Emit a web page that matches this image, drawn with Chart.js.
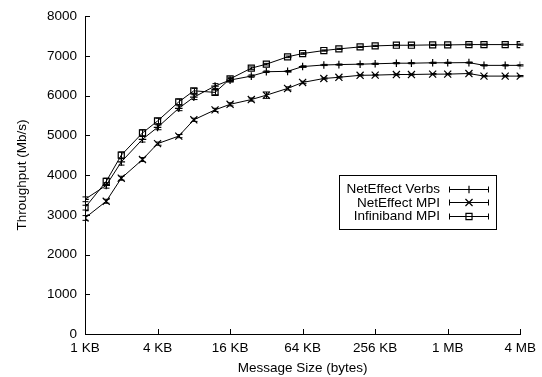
<!DOCTYPE html>
<html>
<head>
<meta charset="utf-8">
<script src="https://cdn.jsdelivr.net/npm/chart.js@4/dist/chart.umd.min.js"></script>
<style>
html,body{margin:0;padding:0;background:#fff;}
#wrap{width:542px;height:377px;position:relative;}
</style>
</head>
<body>
<div id="wrap"><canvas id="c" width="542" height="377"></canvas></div>
<script>
// Message sizes in KB
const sizesKB = [1,1.5,2,3,4,6,8,12,16,24,32,48,64,96,128,192,256,384,512,768,1024,1536,2048,3072,4096];
const tickValuesKB = [1,4,16,64,256,1024,4096];
const tickLabels = ["1 KB","4 KB","16 KB","64 KB","256 KB","1 MB","4 MB"];
const yTicks = [0,1000,2000,3000,4000,5000,6000,7000,8000];

const seriesNames = ["NetEffect Verbs","NetEffect MPI","Infiniband MPI"];
const verbs = [3390,3740,4330,4900,5200,5680,5960,6240,6390,6490,6600,6610,6730,6770,6780,6790,6800,6815,6815,6825,6825,6830,6760,6760,6760];
const neMpi = [2920,3340,3920,4390,4790,4980,5390,5640,5780,5900,6010,6180,6330,6430,6460,6510,6515,6530,6530,6540,6540,6555,6490,6490,6490];
const ibMpi = [3180,3840,4500,5060,5360,5840,6120,6080,6420,6690,6790,6975,7058,7133,7175,7225,7250,7267,7267,7275,7275,7283,7283,7283,7283];
const verbsErr = [60,70,80,70,60,60,60,60,40,30,20,20,20,15,15,15,15,15,15,15,15,15,15,15,15];
const neMpiErr = [60,50,50,50,40,40,40,40,40,40,80,40,30,15,15,15,15,15,15,15,15,15,15,15,15];
const ibMpiErr = [60,80,80,80,70,70,60,60,40,30,20,20,20,15,15,15,15,15,15,15,15,15,15,15,15];

const FONT = "'Liberation Sans', Arial, Helvetica, sans-serif";
const FSIZE = 13.5;
const styles = [
  {pointStyle:'cross', radius:3.8},
  {pointStyle:'crossRot', radius:5},
  {pointStyle:'rect', radius:4.3}
];
const values = [verbs, neMpi, ibMpi];
const errs = [verbsErr, neMpiErr, ibMpiErr];

const datasets = values.map((vals, i) => ({
  label: seriesNames[i],
  data: sizesKB.map((s, j) => ({x: s, y: vals[j]})),
  errors: errs[i],
  borderColor: '#000',
  backgroundColor: 'rgba(255,255,255,0)',
  borderWidth: 1,
  pointStyle: styles[i].pointStyle,
  pointRadius: styles[i].radius,
  pointBorderColor: '#000',
  pointBackgroundColor: 'rgba(255,255,255,0)',
  pointBorderWidth: 1.2,
  tension: 0,
  fill: false
}));

const errorBarPlugin = {
  id: 'errorBars',
  afterDatasetsDraw(chart) {
    const ctx = chart.ctx;
    const xs = chart.scales.x, ys = chart.scales.y;
    ctx.save();
    ctx.strokeStyle = '#000';
    ctx.lineWidth = 1;
    chart.data.datasets.forEach(ds => {
      ds.data.forEach((p, j) => {
        const e = ds.errors[j];
        const px = Math.round(xs.getPixelForValue(p.x)) + 0.5;
        const y1 = ys.getPixelForValue(p.y - e);
        const y2 = ys.getPixelForValue(p.y + e);
        ctx.beginPath();
        ctx.moveTo(px, y1); ctx.lineTo(px, y2);
        ctx.moveTo(px - 3, y1); ctx.lineTo(px + 3, y1);
        ctx.moveTo(px - 3, y2); ctx.lineTo(px + 3, y2);
        ctx.stroke();
      });
    });
    ctx.restore();
  }
};

const tickPlugin = {
  id: 'inwardTicks',
  afterDraw(chart) {
    const ctx = chart.ctx;
    const xs = chart.scales.x, ys = chart.scales.y;
    const a = chart.chartArea;
    ctx.save();
    ctx.strokeStyle = '#000';
    ctx.lineWidth = 1;
    ctx.beginPath();
    yTicks.forEach(v => {
      const y = Math.round(ys.getPixelForValue(v)) + 0.5;
      ctx.moveTo(a.left, y); ctx.lineTo(a.left + 5, y);
    });
    tickValuesKB.forEach(v => {
      const x = Math.round(xs.getPixelForValue(v)) + 0.5;
      ctx.moveTo(x, a.bottom); ctx.lineTo(x, a.bottom - 5);
    });
    ctx.stroke();

    // legend
    const bx = 339.5, by = 175.5, bw = 157, bh = 54;
    ctx.strokeRect(bx, by, bw, bh);
    ctx.font = FSIZE + 'px ' + FONT;
    ctx.fillStyle = '#000';
    ctx.textAlign = 'right';
    ctx.textBaseline = 'middle';
    const rows = [189, 202.3, 215.6];
    chart.data.datasets.forEach((ds, i) => {
      const y = rows[i];
      ctx.fillStyle = '#000';
      ctx.fillText(ds.label, 440, y + 0.5);
      const ly = Math.round(y) + 0.5;
      ctx.beginPath();
      ctx.moveTo(449, ly); ctx.lineTo(489, ly);
      ctx.moveTo(449.5, ly - 3); ctx.lineTo(449.5, ly + 3);
      ctx.moveTo(488.5, ly - 3); ctx.lineTo(488.5, ly + 3);
      ctx.stroke();
      ctx.fillStyle = 'rgba(255,255,255,0)';
      ctx.strokeStyle = '#000';
      ctx.lineWidth = 1.2;
      Chart.helpers.drawPoint(ctx, {
        pointStyle: ds.pointStyle, radius: ds.pointRadius, borderWidth: 1.2, rotation: 0
      }, 469, ly);
      ctx.lineWidth = 1;
    });
    ctx.restore();
  }
};

new Chart(document.getElementById('c'), {
  type: 'line',
  data: { datasets },
  options: {
    responsive: false,
    animation: false,
    devicePixelRatio: 1,
    layout: { padding: { left: 0, right: 18, top: 14, bottom: 0 } },
    plugins: { legend: { display: false }, tooltip: { enabled: false } },
    scales: {
      x: {
        type: 'logarithmic',
        min: 1, max: 4096,
        afterBuildTicks(scale) { scale.ticks = tickValuesKB.map(v => ({value: v})); },
        afterFit(scale) { scale.height = 43; },
        grid: { display: false, drawTicks: false },
        border: { display: true, color: '#000', width: 1 },
        ticks: {
          autoSkip: false, maxRotation: 0, padding: 6,
          color: '#000', font: { family: FONT, size: FSIZE },
          callback(v, i) { return tickLabels[i]; }
        },
        title: {
          display: true, text: 'Message Size (bytes)', color: '#000',
          font: { family: FONT, size: FSIZE }, padding: { top: 0, bottom: 1 }
        }
      },
      y: {
        min: 0, max: 8000,
        afterBuildTicks(scale) { scale.ticks = yTicks.map(v => ({value: v})); },
        afterFit(scale) { scale.width = 85; },
        grid: { display: false, drawTicks: false },
        border: { display: true, color: '#000', width: 1 },
        ticks: {
          padding: 8, color: '#000', font: { family: FONT, size: FSIZE },
          callback(v) { return String(v); }
        },
        title: {
          display: true, text: 'Throughput (Mb/s)', color: '#000',
          font: { family: FONT, size: FSIZE }, padding: { top: 14, bottom: 0 }
        }
      }
    }
  },
  plugins: [errorBarPlugin, tickPlugin]
});
</script>
</body>
</html>
